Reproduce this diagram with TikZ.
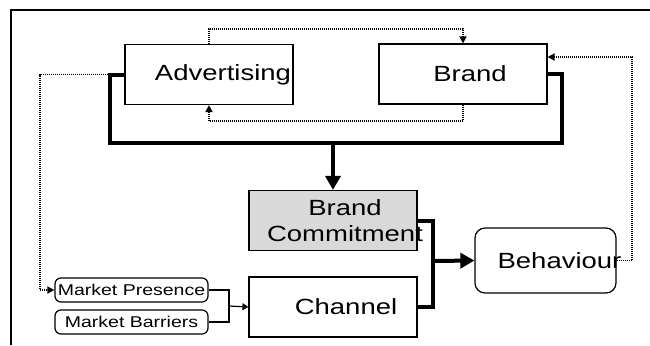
\documentclass[tikz,border=0pt]{standalone}
\usepackage{fontspec}
\setmainfont[FakeStretch=1.25]{Liberation Sans}
\usepackage{xcolor}
\usepackage{tikz}
\usetikzlibrary{arrows.meta}

\definecolor{cmtgray}{RGB}{217,217,217}

\tikzset{
  box/.style={draw,line width=0.6pt,minimum width=84pt,minimum height=30pt,inner sep=0pt},
  rbox/.style={box,rounded corners=5pt,minimum width=70.5pt,minimum height=32.5pt},
  tag/.style={draw,line width=0.6pt,rounded corners=3pt,minimum width=76.5pt,minimum height=12pt,
    inner sep=0pt,font=\fontsize{7.8}{8}\selectfont},
  heavy/.style={line width=2pt},
  dots/.style={line width=0.9pt,dash pattern=on 0.5pt off 0.5pt},
  thin link/.style={line width=0.6pt}
}

\begin{document}
\begin{tikzpicture}[x=0.5pt,y=-0.5pt,font=\fontsize{11}{13}\selectfont]
\useasboundingbox (0,0) rectangle (650,345);
\draw[line width=1pt](650,10)--(11,10)--(11,345);

\node[box,label={[xshift=7pt]center:Advertising}](adv)at(209,74.5){};
\node[box,label={[xshift=3.5pt]center:Brand}](brand)at(463,74){};
\node[box,fill=cmtgray,label={[xshift=6pt,align=center]center:Brand\\Commitment}](cmt)at(333,220.5){};
\node[box,label={[xshift=6.5pt]center:Channel}](chan)at(333,307){};
\node[rbox,label={[xshift=7pt]center:Behaviour}](beh)at(545.5,260.5){};
\node[tag](pres)at(131.5,290){Market Presence};
\node[tag](barr)at(131.5,322){Market Barriers};

\coordinate(tl)at(110,143);
\coordinate(tr)at(562,143);
\coordinate(jn)at(433,261);
\coordinate(mj)at(229,306);
\coordinate(fb)at(632,57);
\coordinate(fl)at(40,290);

% heavy links
\draw[heavy](adv.west)-|(tl)--(tr)|-(brand.east);
\draw[heavy,-{Triangle[length=7pt,width=7.5pt]}](cmt.north|-tl)--(cmt.north);
\draw[heavy](cmt.east)-|(jn)|-(chan.east);
\draw[heavy,-{Triangle[length=7pt,width=7.5pt]}](jn)--(beh.west);

% feedback
\draw[dots,-{Triangle[length=3.5pt,width=3.5pt]}](adv.north)--++(0,-15)-|(brand.north);
\draw[dots,-{Triangle[length=3.5pt,width=3.5pt]}](brand.south)--++(0,16)-|(adv.south);
\draw[dots,-{Triangle[length=3.5pt,width=3.5pt]}](beh.east)-|(fb)--(brand.east|-fb);
\draw[dots,-{Triangle[length=3.5pt,width=3.5pt]}](adv.west)-|(fl)--(pres.west);

\draw[thin link](pres.east)-|(mj)|-(barr.east);
\draw[thin link,-{Triangle[length=3pt,width=3.5pt]}](mj)--(chan.west);
\end{tikzpicture}
\end{document}
